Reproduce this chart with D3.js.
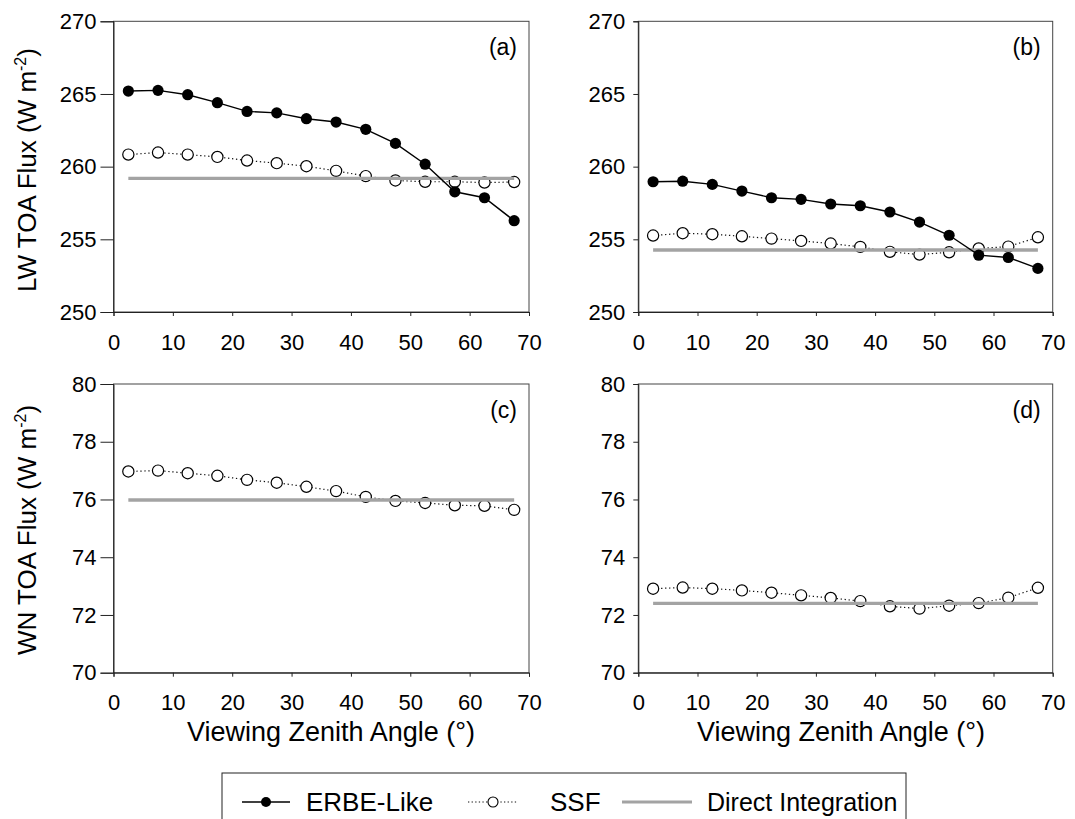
<!DOCTYPE html>
<html>
<head>
<meta charset="utf-8">
<script src="https://cdn.jsdelivr.net/npm/d3@7"></script>
<style>
  html, body { margin: 0; padding: 0; background: #fff; }
  svg { display: block; font-family: "Liberation Sans", Arial, sans-serif; }
</style>
</head>
<body>
<svg id="chart" width="1075" height="819"></svg>
<script>
// Viewing zenith angle bin centres (degrees)
const angles = [2.5, 7.5, 12.5, 17.5, 22.5, 27.5, 32.5, 37.5, 42.5, 47.5, 52.5, 57.5, 62.5, 67.5];

// Panel (a): LW flux
const lwA_erbe = [265.2, 265.25, 264.95, 264.4, 263.8, 263.7, 263.3, 263.07, 262.57, 261.6, 260.17, 258.27, 257.86, 256.28];
const lwA_ssf  = [260.83, 260.97, 260.83, 260.67, 260.42, 260.24, 260.03, 259.71, 259.35, 259.05, 258.96, 258.96, 258.91, 258.94];
const lwA_direct = 259.19;

// Panel (b): LW flux
const lwB_erbe = [258.96, 259.0, 258.78, 258.32, 257.86, 257.75, 257.43, 257.31, 256.88, 256.19, 255.28, 253.91, 253.75, 253.0];
const lwB_ssf  = [255.26, 255.42, 255.35, 255.21, 255.05, 254.89, 254.71, 254.48, 254.14, 253.95, 254.11, 254.37, 254.5, 255.14];
const lwB_direct = 254.27;

// Panel (c): WN flux
const wnC_ssf = [76.97, 77.0, 76.91, 76.82, 76.68, 76.58, 76.44, 76.29, 76.09, 75.95, 75.88, 75.80, 75.78, 75.64];
const wnC_direct = 75.98;

// Panel (d): WN flux
const wnD_ssf = [72.91, 72.95, 72.91, 72.85, 72.77, 72.68, 72.59, 72.48, 72.30, 72.22, 72.32, 72.41, 72.60, 72.94];
const wnD_direct = 72.40;

// Axis ticks
const xTicks = [0, 10, 20, 30, 40, 50, 60, 70];
const lwTicks = [250, 255, 260, 265, 270];
const wnTicks = [70, 72, 74, 76, 78, 80];

const legendLabels = ["ERBE-Like", "SSF", "Direct Integration"];

const svg = d3.select("#chart");

const panels = [
  { label: "(a)", left: 113.5, right: 529,   top: 21.3, bottom: 312,   domain: [250, 270], ticks: lwTicks, erbe: lwA_erbe, ssf: lwA_ssf, direct: lwA_direct, yTick: 13, yPad: 4 },
  { label: "(b)", left: 638.3, right: 1052.7, top: 21.3, bottom: 312,   domain: [250, 270], ticks: lwTicks, erbe: lwB_erbe, ssf: lwB_ssf, direct: lwB_direct, yTick: 5, yPad: 8 },
  { label: "(c)", left: 113.5, right: 529,   top: 384,  bottom: 672.7, domain: [70, 80],   ticks: wnTicks, erbe: null,     ssf: wnC_ssf, direct: wnC_direct, yTick: 13, yPad: 4 },
  { label: "(d)", left: 638.3, right: 1052.7, top: 384,  bottom: 672.7, domain: [70, 80],   ticks: wnTicks, erbe: null,     ssf: wnD_ssf, direct: wnD_direct, yTick: 5, yPad: 8 }
];

const R = 5.6;

panels.forEach(p => {
  const x = d3.scaleLinear().domain([0, 70]).range([p.left, p.right]);
  const y = d3.scaleLinear().domain(p.domain).range([p.bottom, p.top]);
  const g = svg.append("g");

  // frame
  g.append("rect")
    .attr("x", p.left).attr("y", p.top)
    .attr("width", p.right - p.left).attr("height", p.bottom - p.top)
    .attr("fill", "none").attr("stroke", "#444").attr("stroke-width", 1);

  // x axis
  const xa = g.append("g").attr("transform", `translate(0,${p.bottom})`)
    .call(d3.axisBottom(x).tickValues(xTicks).tickSizeOuter(0).tickSize(4).tickPadding(18));
  // y axis
  const ya = g.append("g").attr("transform", `translate(${p.left},0)`)
    .call(d3.axisLeft(y).tickValues(p.ticks).tickSizeOuter(0).tickSize(p.yTick).tickPadding(p.yPad));
  [xa, ya].forEach(a => {
    a.select(".domain").attr("stroke", "#222");
    a.selectAll(".tick line").attr("stroke", "#222");
    a.selectAll(".tick text").attr("font-size", 22).attr("fill", "#000")
      .attr("font-family", "Liberation Sans, Arial, sans-serif");
  });

  // SSF (dotted, open circles)
  const line = d3.line().x((d, i) => x(angles[i])).y(d => y(d));
  g.append("path").datum(p.ssf).attr("d", line)
    .attr("fill", "none").attr("stroke", "#111").attr("stroke-width", 1.2)
    .attr("stroke-dasharray", "1.3,2.7");
  g.selectAll(".ssf").data(p.ssf).join("circle")
    .attr("cx", (d, i) => x(angles[i])).attr("cy", d => y(d)).attr("r", R)
    .attr("fill", "#fff").attr("stroke", "#000").attr("stroke-width", 1.2);

  // Direct integration (thick grey)
  g.append("path")
    .datum([angles[0], angles[angles.length - 1]])
    .attr("d", d3.line().x(d => x(d)).y(() => y(p.direct)))
    .attr("stroke", "#a3a3a3").attr("stroke-width", 3.4).attr("fill", "none");

  // ERBE-Like (solid, filled circles)
  if (p.erbe) {
    g.append("path").datum(p.erbe).attr("d", line)
      .attr("fill", "none").attr("stroke", "#000").attr("stroke-width", 1.4);
    g.selectAll(".erbe").data(p.erbe).join("circle")
      .attr("cx", (d, i) => x(angles[i])).attr("cy", d => y(d)).attr("r", R)
      .attr("fill", "#000");
  }

  // panel letter
  g.append("text").attr("x", p.right - 12).attr("y", p.top + 34)
    .attr("text-anchor", "end").attr("font-size", 23).text(p.label);
});

// y axis titles
function yTitle(cx, cy, main) {
  const t = svg.append("text")
    .attr("transform", `translate(${cx},${cy}) rotate(-90)`)
    .attr("text-anchor", "middle").attr("font-size", 26);
  t.append("tspan").text(main + " (W m");
  t.append("tspan").attr("font-size", 16).attr("dy", -10).text("-2");
  t.append("tspan").attr("dy", 10).text(")");
}
yTitle(36, 170, "LW TOA Flux");
yTitle(36, 530, "WN TOA Flux");

// x axis titles
[331, 841].forEach(cx => {
  svg.append("text").attr("x", cx).attr("y", 741)
    .attr("text-anchor", "middle").attr("font-size", 27)
    .text("Viewing Zenith Angle (°)");
});

// legend
const lg = svg.append("g");
lg.append("rect").attr("x", 222).attr("y", 773).attr("width", 684).attr("height", 60)
  .attr("fill", "#fff").attr("stroke", "#222").attr("stroke-width", 1);
const ly = 802;
// ERBE-Like
lg.append("line").attr("x1", 242).attr("x2", 290).attr("y1", ly).attr("y2", ly)
  .attr("stroke", "#000").attr("stroke-width", 1.4);
lg.append("circle").attr("cx", 266).attr("cy", ly).attr("r", 5).attr("fill", "#000");
lg.append("text").attr("x", 306).attr("y", ly + 9).attr("font-size", 26).text(legendLabels[0]);
// SSF
lg.append("line").attr("x1", 468).attr("x2", 518).attr("y1", ly).attr("y2", ly)
  .attr("stroke", "#111").attr("stroke-width", 1.1).attr("stroke-dasharray", "1.3,2.3");
lg.append("circle").attr("cx", 493).attr("cy", ly).attr("r", 5)
  .attr("fill", "#fff").attr("stroke", "#000").attr("stroke-width", 1.1);
lg.append("text").attr("x", 550).attr("y", ly + 9).attr("font-size", 26).text(legendLabels[1]);
// Direct Integration
lg.append("line").attr("x1", 622).attr("x2", 692).attr("y1", ly).attr("y2", ly)
  .attr("stroke", "#a3a3a3").attr("stroke-width", 3);
lg.append("text").attr("x", 707).attr("y", ly + 9).attr("font-size", 25).text(legendLabels[2]);
</script>
</body>
</html>
